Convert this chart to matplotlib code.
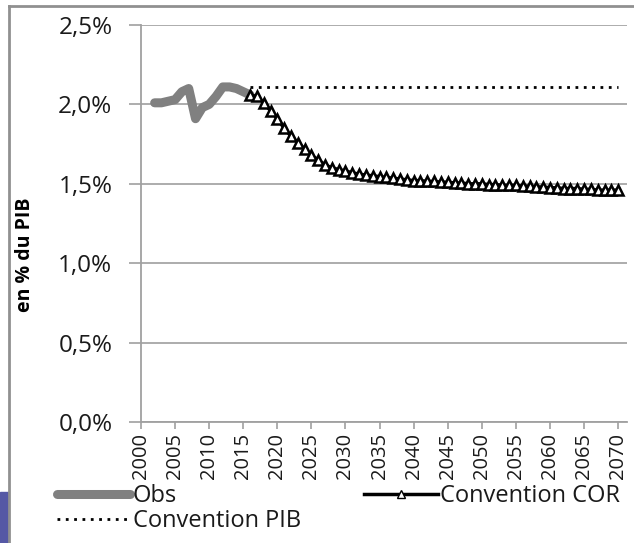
import matplotlib
matplotlib.use("Agg")
import matplotlib.pyplot as plt
from matplotlib.lines import Line2D
from matplotlib.patches import Rectangle
from matplotlib.ticker import FuncFormatter, MultipleLocator

plt.rcParams['font.family'] = ['Open Sans', 'DejaVu Sans']

obs_years = [2002, 2003, 2004, 2005, 2006, 2007, 2008, 2009, 2010, 2011,
             2012, 2013, 2014, 2015, 2016]
obs_values = [2.01, 2.01, 2.02, 2.03, 2.08, 2.10, 1.91, 1.98, 2.00, 2.05,
              2.11, 2.11, 2.10, 2.08, 2.06]

cor_years = list(range(2016, 2071))
cor_values = [2.06, 2.05, 2.01, 1.96, 1.91, 1.85, 1.80, 1.76, 1.72, 1.68,
              1.65, 1.62, 1.60, 1.59, 1.58, 1.57, 1.56, 1.555, 1.55, 1.545,
              1.54, 1.535, 1.53, 1.525, 1.52, 1.52, 1.515, 1.515, 1.51, 1.51,
              1.505, 1.505, 1.50, 1.50, 1.50, 1.495, 1.495, 1.49, 1.49, 1.49,
              1.485, 1.485, 1.48, 1.48, 1.475, 1.475, 1.47, 1.47, 1.47, 1.465,
              1.465, 1.46, 1.46, 1.46, 1.46]

pib_years = [2016, 2070]
pib_values = [2.11, 2.11]

x_ticks = list(range(2000, 2071, 5))

W, H = 634, 543
fig = plt.figure(figsize=(W / 100, H / 100), dpi=100)
ax = fig.add_axes([141 / W, 1 - 422 / H, (627 - 141) / W, (422 - 25) / H])

ax.plot(obs_years, obs_values, color='#808080', lw=6.5, solid_capstyle='round',
        solid_joinstyle='round', zorder=3)
ax.plot(pib_years, pib_values, color='black', lw=2, linestyle=(0, (1, 2.0)),
        zorder=3)
ax.plot(cor_years, cor_values, color='black', lw=2.5, marker='^', markersize=7,
        markerfacecolor='white', markeredgecolor='black', markeredgewidth=1.8,
        zorder=4)

ax.set_xlim(2000, 2071.3)
ax.set_ylim(0, 2.5)
ax.yaxis.set_major_locator(MultipleLocator(0.5))
ax.yaxis.set_major_formatter(FuncFormatter(lambda v, p: f"{v:.1f}%".replace('.', ',')))
ax.set_xticks(x_ticks)
ax.set_xticklabels([str(y) for y in x_ticks], rotation=90, fontsize=14.5)
ax.tick_params(axis='y', labelsize=17.5, length=8.6, width=1.2, color='#a0a0a0',
               pad=12, labelcolor='#1a1a1a')
ax.tick_params(axis='x', length=5, width=1.2, color='#a0a0a0', pad=3,
               labelcolor='#1a1a1a')

ax.grid(axis='y', color='#a6a6a6', lw=1.3)
ax.set_axisbelow(True)
for s in ['top', 'right']:
    ax.spines[s].set_visible(False)
for s in ['left', 'bottom']:
    ax.spines[s].set_color('#a0a0a0')
    ax.spines[s].set_linewidth(1.3)

ax.set_ylabel('en % du PIB', fontsize=14, fontweight='bold')
ax.yaxis.set_label_coords((35 - 141) / (627 - 141), (422 - 255) / (422 - 25))

handles = [
    Line2D([], [], color='#808080', lw=6.5, solid_capstyle='round'),
    Line2D([], [], color='black', lw=2, linestyle=(0, (1, 2.0))),
    Line2D([], [], color='black', lw=2.5, marker='^', markersize=6,
           markerfacecolor='white', markeredgecolor='black', markeredgewidth=1.0),
]
labels = ['Obs', 'Convention PIB', 'Convention COR']
fig.legend(handles, labels, ncol=2, loc='upper left',
           bbox_to_anchor=(57 / W, 1 - 484 / H), frameon=False, fontsize=17,
           handlelength=3.1, handletextpad=0.1, columnspacing=2.7,
           labelspacing=0.05, borderpad=0, borderaxespad=0,
           labelcolor='#1a1a1a')

# slide frame border and background shape
fig.add_artist(Line2D([9 / W, 9 / W], [0, 1 - 6 / H], color='#909090', lw=2,
                      transform=fig.transFigure))
fig.add_artist(Line2D([9 / W, 1], [1 - 6 / H, 1 - 6 / H], color='#909090', lw=2,
                      transform=fig.transFigure))
fig.add_artist(Rectangle((0, 0), 8 / W, (543 - 492) / H, color='#5558a5',
                         transform=fig.transFigure))

fig.savefig('out.png', dpi=100)
